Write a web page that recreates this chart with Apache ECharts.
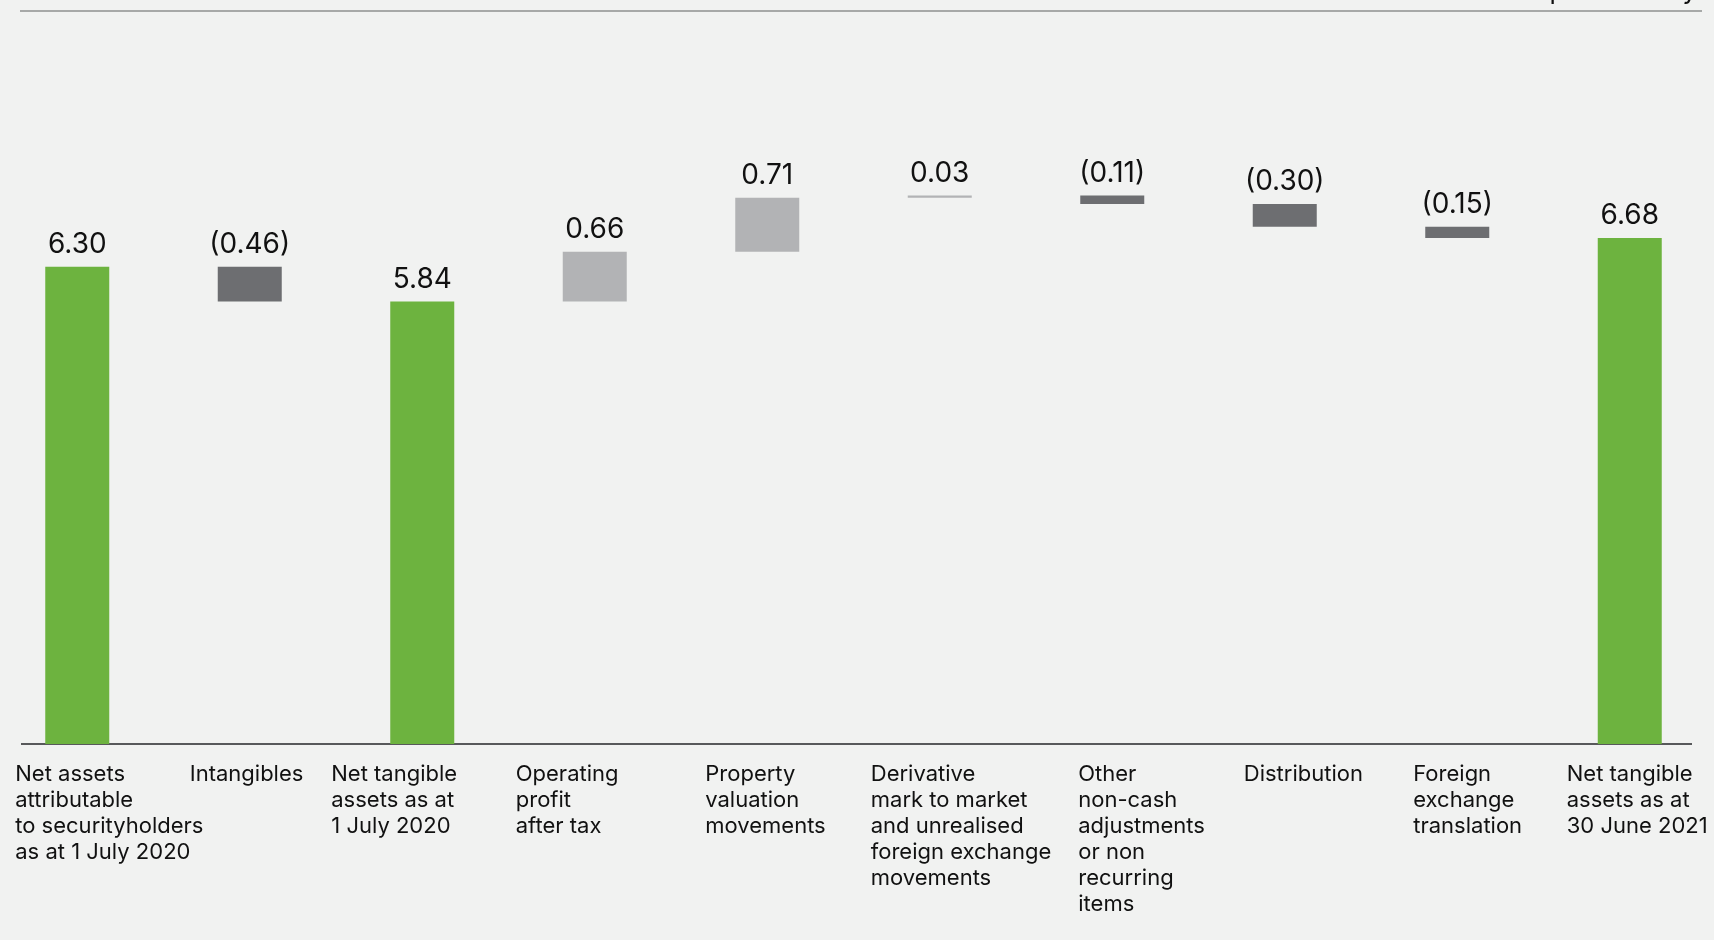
<!DOCTYPE html>
<html>
<head>
<meta charset="utf-8">
<title>Net tangible assets bridge</title>
<script src="https://cdn.jsdelivr.net/npm/echarts@6/dist/echarts.min.js"></script>
<style>
  html, body { margin: 0; padding: 0; background: #f1f2f1; }
  #chart { width: 1714px; height: 940px; }
</style>
</head>
<body>
<div id="chart"></div>
<script>
// Bridge steps, left to right
const categories = [
  'Net assets\nattributable\nto securityholders\nas at 1 July 2020',
  'Intangibles',
  'Net tangible\nassets as at\n1 July 2020',
  'Operating\nprofit\nafter tax',
  'Property\nvaluation\nmovements',
  'Derivative\nmark to market\nand unrealised\nforeign exchange\nmovements',
  'Other\nnon-cash\nadjustments\nor non\nrecurring\nitems',
  'Distribution',
  'Foreign\nexchange\ntranslation',
  'Net tangible\nassets as at\n30 June 2021'
];
// $ per security; totals are absolute levels, the rest are movements
const changes = [6.30, -0.46, 5.84, 0.66, 0.71, 0.03, -0.11, -0.30, -0.15, 6.68];
const kinds = ['total', 'step', 'total', 'step', 'step', 'step', 'step', 'step', 'step', 'total'];

// Layout: how far (px) each left-aligned caption starts to the left of its bar centre
const captionLead = [62, 60, 91, 79, 62, 69, 34, 41, 44, 63];

const COLORS = { total: '#6db33f', up: '#b2b3b5', down: '#6d6e71' };
const FONT = 'Inter, "Liberation Sans", Arial, sans-serif';

// Build the floating waterfall: an invisible base plus the visible segment
const baseData = [];
const barData = [];
const labels = [];
let level = 0;
changes.forEach((v, i) => {
  let base, height, color;
  if (kinds[i] === 'total') {
    base = 0; height = v; level = v; color = COLORS.total;
  } else if (v >= 0) {
    base = level; height = v; level = +(level + v).toFixed(2); color = COLORS.up;
  } else {
    level = +(level + v).toFixed(2); base = level; height = -v; color = COLORS.down;
  }
  baseData.push(+base.toFixed(2));
  barData.push({ value: +height.toFixed(2), itemStyle: { color: color } });
  labels.push(v < 0 ? '(' + Math.abs(v).toFixed(2) + ')' : v.toFixed(2));
});

const captionStyle = {
  align: 'left',
  verticalAlign: 'top',
  color: '#111111',
  fontFamily: FONT,
  fontSize: 22,
  lineHeight: 26
};

const axisCategories = categories.map((name, i) => ({
  value: name,
  textStyle: Object.assign({}, captionStyle, { padding: [0, 0, 0, -captionLead[i]] })
}));

const chart = echarts.init(document.getElementById('chart'), null, { renderer: 'canvas' });
chart.setOption({
  backgroundColor: '#f1f2f1',
  animation: false,
  textStyle: { fontFamily: FONT },
  grid: {
    left: -9, right: -2, top: 138, bottom: 196,
    containLabel: false,
    outerBoundsMode: 'none'
  },
  xAxis: {
    type: 'category',
    boundaryGap: true,
    data: axisCategories,
    axisLine: { show: false },
    axisTick: { show: false },
    axisLabel: Object.assign({ interval: 0, margin: 17, hideOverlap: false }, captionStyle)
  },
  yAxis: {
    type: 'value',
    min: 0,
    max: 8,
    show: false,
    splitLine: { show: false }
  },
  series: [
    {
      type: 'bar',
      stack: 'bridge',
      silent: true,
      barWidth: 64,
      itemStyle: { color: 'transparent' },
      data: baseData
    },
    {
      type: 'bar',
      stack: 'bridge',
      barWidth: 64,
      data: barData,
      label: {
        show: true,
        position: 'top',
        distance: 8,
        color: '#111111',
        fontFamily: FONT,
        fontSize: 28,
        formatter: (p) => labels[p.dataIndex]
      }
    }
  ],
  graphic: [
    {
      type: 'line',
      shape: { x1: 20, y1: 11, x2: 1702, y2: 11 },
      style: { stroke: '#a7a9a8', lineWidth: 2 },
      silent: true
    },
    {
      type: 'line',
      shape: { x1: 21, y1: 744, x2: 1692, y2: 744 },
      style: { stroke: '#58595b', lineWidth: 2 },
      silent: true
    },
    {
      type: 'text',
      right: 17,
      top: -22,
      style: { text: 'Net assets per security', fontFamily: FONT, fontSize: 26, fill: '#111111' },
      silent: true
    }
  ]
});
</script>
</body>
</html>
